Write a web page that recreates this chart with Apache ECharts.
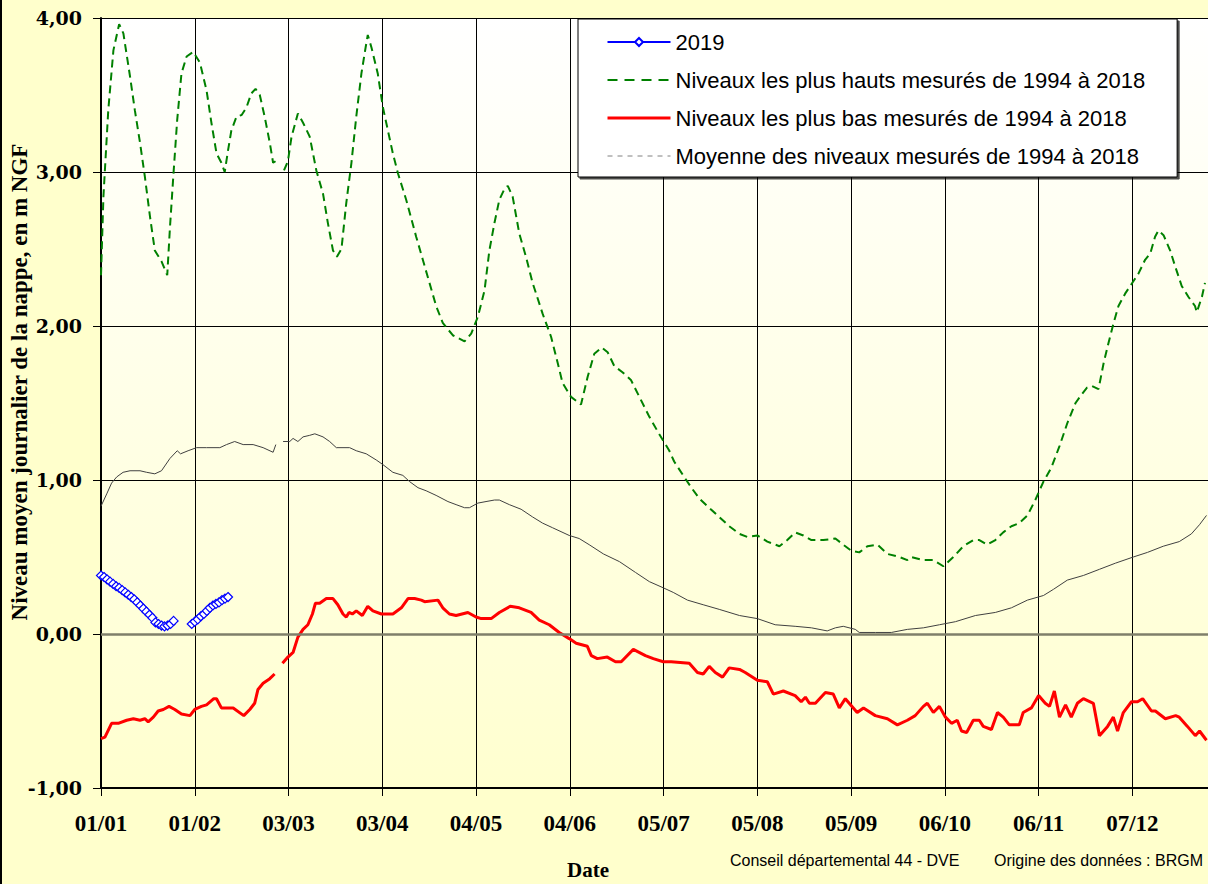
<!DOCTYPE html>
<html>
<head>
<meta charset="utf-8">
<script src="https://cdn.jsdelivr.net/npm/echarts@6/dist/echarts.min.js"></script>
<style>
    html, body { margin: 0; padding: 0; background: #ffffcc; }
    #main { position: absolute; left: 0; top: 0; width: 1208px; height: 884px; }
    #frame { position: absolute; left: 0; top: 0; width: 2px; height: 884px; background: #000; }
</style>
</head>
<body>
<div id="main"></div>
<div id="frame"></div>
<script>
// x = jour de l'année (année bissextile, 0 = 01/01), repères tous les 31 jours
var tickLabels = ['01/01', '01/02', '03/03', '03/04', '04/05', '04/06', '05/07', '05/08', '05/09', '06/10', '06/11', '07/12'];

var days2019 = [0, 1, 2, 3, 4, 5, 6, 7, 8, 9, 10, 11, 12, 13, 14, 15, 16, 17, 18, 19, 20, 21, 22, 23, 24,
    27, 30, 31, 32, 33, 34, 35, 36, 37, 38, 39, 40, 41, 42];
var levels2019 = [0.38, 0.37, 0.355, 0.34, 0.325, 0.31, 0.30, 0.285, 0.27, 0.255, 0.24, 0.225, 0.205, 0.185, 0.165, 0.145, 0.125, 0.105, 0.075, 0.065, 0.055, 0.05, 0.055, 0.065, 0.085,
    null, 0.065, 0.08, 0.095, 0.115, 0.13, 0.15, 0.17, 0.185, 0.195, 0.205, 0.22, 0.23, 0.24];

var highDays = [0, 0.8, 2.4, 4.1, 6, 7.4, 9.6, 11.2, 12.9, 14.5, 16.2, 17.8, 20, 21.9, 22.8, 23.9, 25.2, 26.6, 28.3, 30.5,
    32.7, 34.9, 36.5, 38.2, 39.8, 40.9, 42, 43.1, 44.8, 46.5, 48.1, 49.7, 51.1, 52.5, 54.1, 55.8, 56.9, 57.7, 59, 60.5,
    61.8, 63, 65.1, 66.8, 69, 71.2, 73.4, 75, 76.7, 78, 79.5, 81.1, 82.8, 84.4, 86.1, 87.5, 88.2, 89.4, 91.5, 93.2,
    96.5, 98.2, 100.9, 104.2, 106.4, 108.6, 110.8, 113, 116.3, 120.2, 122.4, 124.6, 126.8, 128.4, 130.1, 131.7, 133.4, 134.5, 136.1, 138.3,
    140.5, 142.7, 146, 148.8, 151, 152.6, 155.4, 158.7, 160.9, 163.1, 165.6, 167.5, 169.7, 172.4, 175.2, 178, 181.3, 184.5, 187.9, 189.5,
    192.8, 195.2, 197.8, 200.5, 204.4, 207.7, 211.1, 213.7, 217, 220.3, 224.3, 226.9, 229.5, 232.2, 234.9, 238.8, 242.8, 245.4, 248.1, 250.7,
    253.4, 256.7, 260, 264, 266.6, 267.9, 271.9, 275.2, 278.5, 281.8, 285.1, 288.4, 290.4, 293, 295.7, 298.3, 301, 303.6, 306.3, 308.9,
    311.6, 314.2, 316.9, 319.5, 322.2, 324, 326, 327.6, 329.8, 331.5, 333.1, 334.8, 336.4, 338.6, 340.3, 343, 345.2, 346.9, 348.5, 349.6,
    351.3, 353.5, 355.1, 357.3, 359.5, 361.7, 362.3, 364, 365];
var highLevels = [2.33, 2.84, 3.40, 3.79, 3.96, 3.90, 3.62, 3.40, 3.19, 2.97, 2.71, 2.49, 2.42, 2.33, 2.64, 2.97, 3.34, 3.64, 3.75, 3.78,
    3.71, 3.53, 3.32, 3.12, 3.06, 3.00, 3.14, 3.27, 3.36, 3.37, 3.42, 3.51, 3.54, 3.50, 3.36, 3.19, 3.06, 3.07, null, 3.01,
    3.07, 3.23, 3.38, 3.32, 3.23, 3.01, 2.86, 2.67, 2.49, 2.45, 2.50, 2.80, 3.06, 3.36, 3.64, 3.81, 3.89, 3.81, 3.64, 3.42,
    3.12, 2.99, 2.82, 2.58, 2.43, 2.28, 2.13, 2.02, 1.94, 1.90, 1.95, 2.06, 2.23, 2.49, 2.67, 2.82, 2.89, 2.91, 2.84, 2.60,
    2.45, 2.28, 2.08, 1.93, 1.76, 1.63, 1.54, 1.49, 1.67, 1.82, 1.86, 1.83, 1.74, 1.70, 1.65, 1.54, 1.41, 1.30, 1.19, 1.12,
    1.02, 0.95, 0.88, 0.83, 0.76, 0.70, 0.65, 0.63, 0.64, 0.60, 0.57, 0.61, 0.66, 0.64, 0.61, 0.61, 0.62, 0.58, 0.54, 0.53,
    0.57, 0.58, 0.52, 0.50, 0.48, 0.50, 0.48, 0.48, 0.44, 0.50, 0.57, 0.61, 0.61, 0.58, 0.61, 0.66, 0.70, 0.72, 0.77, 0.87,
    0.99, 1.08, 1.22, 1.37, 1.50, 1.55, 1.60, 1.61, 1.59, 1.76, 1.89, 2.02, 2.13, 2.21, 2.26, 2.34, 2.43, 2.47, 2.58, 2.62,
    2.59, 2.49, 2.39, 2.26, 2.19, 2.13, 2.09, 2.19, 2.28];

var lowDays = [0, 1.3, 3.5, 5.7, 8.5, 10.7, 12.9, 14.5, 15.6, 17.3, 18.9, 20.6, 22.5, 24.4, 26.6, 29.4, 31, 33.2, 34.9, 37.3,
    38.2, 39.8, 43.7, 47.2, 49.2, 50.8, 51.9, 53.6, 55.8, 57.4, 59, 60, 61.8, 63.5, 65.1, 66.8, 68.4, 69.9, 70.9, 72.3,
    74.5, 76.7, 78.3, 80, 81.1, 82, 83.1, 84.4, 86.4, 88.2, 89.9, 92.7, 96.5, 99.3, 101.5, 103.7, 105.9, 107, 111.4, 113,
    115.2, 117.4, 121.3, 124, 125.7, 129, 131.7, 135.3, 138.3, 142.2, 144.9, 148.2, 151.5, 154.8, 157.1, 160.8, 162.1, 164.1, 167.4, 170.1,
    172, 176, 180, 182.6, 185.9, 188.5, 194.5, 197.2, 199.1, 201.1, 203.1, 205.5, 207.7, 211.1, 213, 217, 220.3, 222.3, 225.6, 229.5,
    231.5, 232.9, 234.2, 236.2, 239.5, 242.1, 244.1, 246.1, 250, 252.1, 256, 260, 263.3, 266.6, 269.2, 271.9, 273.2, 275.2, 277.2, 279.2,
    281.2, 283.1, 284.5, 286.2, 288.4, 290.4, 291.7, 294.4, 296.4, 298.3, 300.3, 303.6, 304.9, 307.6, 310, 312.2, 313.6, 315.2, 316.9, 318.9,
    320.8, 322.8, 324.8, 328.1, 330.1, 332.8, 334.7, 336.1, 338, 340.7, 342.7, 344.4, 347.3, 348.6, 351.9, 355.3, 356.5, 359.2, 361.8, 363.2,
    365.5];
var lowLevels = [-0.68, -0.67, -0.58, -0.58, -0.56, -0.55, -0.56, -0.55, -0.57, -0.54, -0.50, -0.49, -0.47, -0.49, -0.52, -0.53, -0.49, -0.47, -0.46, -0.42,
    -0.42, -0.48, -0.48, -0.53, -0.49, -0.45, -0.36, -0.32, -0.29, -0.26, null, -0.19, -0.15, -0.12, -0.02, 0.03, 0.06, 0.13, 0.20, 0.20,
    0.23, 0.23, 0.19, 0.13, 0.11, 0.14, 0.13, 0.15, 0.12, 0.18, 0.15, 0.13, 0.13, 0.17, 0.23, 0.23, 0.22, 0.21, 0.22, 0.17,
    0.13, 0.12, 0.14, 0.11, 0.10, 0.10, 0.14, 0.18, 0.17, 0.14, 0.09, 0.06, 0.01, -0.03, -0.06, -0.08, -0.14, -0.16, -0.15, -0.18,
    -0.18, -0.10, -0.14, -0.16, -0.18, -0.18, -0.19, -0.25, -0.26, -0.21, -0.25, -0.28, -0.22, -0.23, -0.25, -0.30, -0.31, -0.39, -0.37, -0.40,
    -0.44, -0.41, -0.45, -0.45, -0.38, -0.39, -0.48, -0.42, -0.51, -0.48, -0.53, -0.55, -0.59, -0.56, -0.53, -0.47, -0.45, -0.51, -0.47, -0.54,
    -0.58, -0.56, -0.63, -0.64, -0.56, -0.56, -0.60, -0.62, -0.51, -0.54, -0.59, -0.59, -0.51, -0.48, -0.40, -0.45, -0.47, -0.37, -0.54, -0.46,
    -0.54, -0.45, -0.42, -0.45, -0.66, -0.60, -0.54, -0.63, -0.51, -0.44, -0.44, -0.42, -0.50, -0.50, -0.55, -0.53, -0.54, -0.60, -0.66, -0.63,
    -0.69];

var meanDays = [0, 1.9, 3.5, 5.2, 7.3, 9.6, 12.9, 15.1, 17.8, 20, 22.8, 25.2, 26.3, 28.8, 31.6, 34.9, 39.3, 41.5, 44.2, 47,
    50.3, 53.6, 56.9, 57.8, 59, 60.2, 62.4, 63.5, 65.1, 66.8, 69, 70.7, 73.4, 75.6, 77.8, 82.2, 84.4, 87.7, 91, 93.2,
    96.5, 99.8, 102, 104.8, 107.5, 110.8, 114.7, 117.4, 120.2, 121.8, 124.6, 127.3, 130.1, 131.7, 135, 138.9, 142.7, 146, 149.3, 154.8,
    158.1, 161.4, 166.1, 171.4, 176.7, 181.3, 185.9, 189.2, 193.9, 199.1, 204.4, 211.1, 217, 222.9, 229.5, 234.9, 240.1, 242.8, 245.4, 249.4,
    250.7, 256, 261.3, 266.6, 271.9, 277.2, 282.5, 289.1, 295.7, 301, 306.3, 311.6, 314.9, 319.5, 324.8, 330.1, 335.4, 341.3, 346, 351.2,
    356.5, 360.5, 363.2, 365.5];
var meanLevels = [0.83, 0.91, 0.98, 1.02, 1.05, 1.06, 1.06, 1.05, 1.04, 1.06, 1.14, 1.19, 1.17, 1.19, 1.21, 1.21, 1.21, 1.23, 1.25, 1.23,
    1.23, 1.21, 1.18, 1.23, null, 1.25, 1.25, 1.27, 1.25, 1.28, 1.29, 1.30, 1.28, 1.25, 1.21, 1.21, 1.19, 1.17, 1.13, 1.10,
    1.05, 1.03, 0.99, 0.95, 0.93, 0.90, 0.86, 0.84, 0.82, 0.82, 0.85, 0.86, 0.87, 0.87, 0.84, 0.81, 0.76, 0.72, 0.69, 0.64,
    0.62, 0.58, 0.52, 0.47, 0.40, 0.34, 0.30, 0.27, 0.22, 0.19, 0.16, 0.12, 0.10, 0.06, 0.05, 0.04, 0.02, 0.04, 0.05, 0.03,
    0.01, 0.01, 0.01, 0.03, 0.04, 0.06, 0.08, 0.12, 0.14, 0.17, 0.22, 0.25, 0.29, 0.35, 0.38, 0.42, 0.46, 0.50, 0.53, 0.57,
    0.60, 0.65, 0.71, 0.77];

var seriesNames = [
    '2019',
    'Niveaux les plus hauts mesurés de 1994 à 2018',
    'Niveaux les plus bas mesurés de 1994 à 2018',
    'Moyenne des niveaux mesurés de 1994 à 2018'
];

function pairs(days, levels) {
    return days.map(function (d, i) {
        return [d, levels[i] === null ? '-' : levels[i]];
    });
}

var chart = echarts.init(document.getElementById('main'), null, { renderer: 'svg' });

// pas de symbole dans la légende pour les séries sans marqueur
var noSymbol = { opacity: 0, color: 'transparent', borderWidth: 0 };

var option = {
    animation: false,
    backgroundColor: '#ffffcc',
    grid: {
        left: 101,
        top: 18,
        width: 1108.6,
        height: 770,
        show: true,
        borderWidth: 0,
        backgroundColor: {
            type: 'linear', x: 0, y: 0, x2: 0, y2: 1,
            colorStops: [
                { offset: 0, color: '#ffffff' },
                { offset: 1, color: '#ffffcf' }
            ]
        }
    },
    legend: {
        orient: 'vertical',
        left: 578,
        top: 19,
        padding: [12, 32, 10, 28],
        itemGap: 16,
        itemWidth: 63,
        itemHeight: 10,
        backgroundColor: '#ffffff',
        borderColor: '#000000',
        borderWidth: 1,
        shadowColor: 'rgba(0,0,0,0.7)',
        shadowOffsetX: 2,
        shadowOffsetY: 2,
        textStyle: { fontFamily: 'Liberation Sans', fontSize: 22, color: '#000' },
        data: [
            { name: seriesNames[0] },
            { name: seriesNames[1], itemStyle: noSymbol, lineStyle: { type: [10, 7], color: '#008000', width: 2 } },
            { name: seriesNames[2], itemStyle: noSymbol, lineStyle: { color: '#ff0000', width: 3 } },
            { name: seriesNames[3], itemStyle: noSymbol, lineStyle: { type: [5, 5], color: '#808080', width: 1 } }
        ]
    },
    xAxis: {
        type: 'value',
        min: 0,
        max: 366,
        interval: 31,
        axisLine: { onZero: false, lineStyle: { color: '#000', width: 2 } },
        axisTick: { show: true, length: 8, lineStyle: { color: '#000' } },
        splitLine: { show: true, lineStyle: { color: '#000', width: 1 } },
        axisLabel: {
            showMaxLabel: false,
            margin: 24,
            fontFamily: 'Liberation Serif',
            fontWeight: 'bold',
            fontSize: 23,
            color: '#000',
            formatter: function (v) {
                return v % 31 === 0 ? (tickLabels[v / 31] || '') : '';
            }
        }
    },
    yAxis: {
        type: 'value',
        min: -1,
        max: 4,
        interval: 1,
        axisLine: { show: true, lineStyle: { color: '#000', width: 2 } },
        axisTick: { show: true, length: 8, lineStyle: { color: '#000' } },
        splitLine: { show: true, lineStyle: { color: '#000', width: 1 } },
        axisLabel: {
            margin: 19,
            fontFamily: 'DejaVu Serif',
            fontWeight: 'bold',
            fontSize: 19,
            color: '#000',
            formatter: function (v) {
                return v.toFixed(2).replace('.', ',');
            }
        }
    },
    graphic: [
        {
            type: 'text',
            x: 19,
            y: 382,
            rotation: Math.PI / 2,
            style: {
                text: 'Niveau moyen journalier de la nappe, en m NGF',
                fontFamily: 'Liberation Serif',
                fontWeight: 'bold',
                fontSize: 23,
                fill: '#000',
                align: 'center',
                verticalAlign: 'middle'
            }
        },
        {
            type: 'text',
            x: 588,
            y: 870,
            style: {
                text: 'Date',
                fontFamily: 'Liberation Serif',
                fontWeight: 'bold',
                fontSize: 21,
                fill: '#000',
                align: 'center',
                verticalAlign: 'middle'
            }
        },
        {
            type: 'text',
            x: 730,
            y: 860,
            style: {
                text: 'Conseil départemental 44 - DVE',
                fontFamily: 'Liberation Sans',
                fontSize: 16,
                fill: '#000',
                align: 'left',
                verticalAlign: 'middle'
            }
        },
        {
            type: 'text',
            x: 994,
            y: 860,
            style: {
                text: 'Origine des données : BRGM',
                fontFamily: 'Liberation Sans',
                fontSize: 16,
                fill: '#000',
                align: 'left',
                verticalAlign: 'middle'
            }
        }
    ],
    series: [
        {
            name: seriesNames[1],
            type: 'line',
            symbol: 'none',
            z: 2,
            lineStyle: { color: '#008000', width: 2, type: [8, 5] },
            itemStyle: { color: '#008000' },
            data: pairs(highDays, highLevels),
            markLine: {
                silent: true,
                symbol: ['none', 'none'],
                label: { show: false },
                lineStyle: { color: '#7f7f6a', width: 2.5, type: 'solid' },
                data: [{ yAxis: 0 }]
            }
        },
        {
            name: seriesNames[2],
            type: 'line',
            symbol: 'none',
            z: 3,
            lineStyle: { color: '#ff0000', width: 3 },
            itemStyle: { color: '#ff0000' },
            data: pairs(lowDays, lowLevels)
        },
        {
            name: seriesNames[3],
            type: 'line',
            symbol: 'none',
            z: 3,
            lineStyle: { color: '#404040', width: 1 },
            itemStyle: { color: '#404040' },
            data: pairs(meanDays, meanLevels)
        },
        {
            name: seriesNames[0],
            type: 'line',
            symbol: 'diamond',
            symbolSize: 9,
            z: 4,
            lineStyle: { color: '#0000ff', width: 1 },
            itemStyle: { color: '#ffffff', borderColor: '#0000ff', borderWidth: 1.2 },
            data: pairs(days2019, levels2019)
        }
    ]
};

chart.setOption(option);
</script>
</body>
</html>
